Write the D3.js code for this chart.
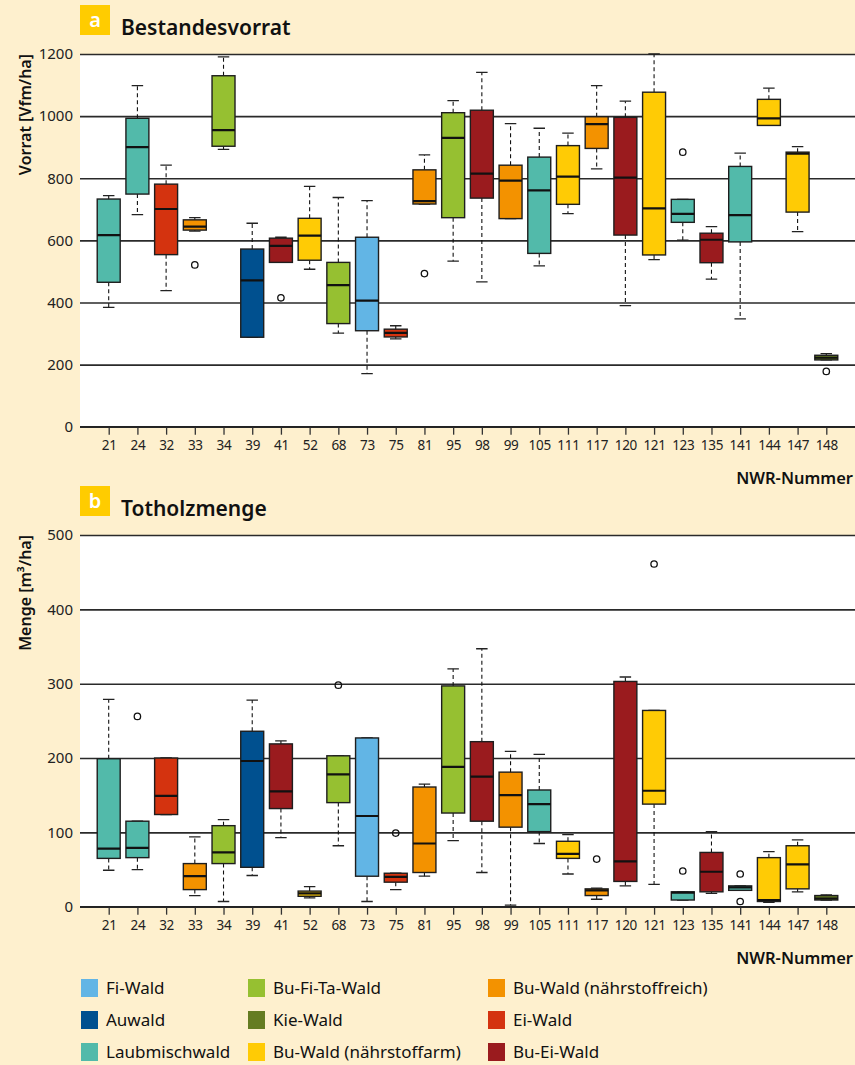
<!DOCTYPE html>
<html>
<head>
<meta charset="utf-8">
<script src="https://cdn.jsdelivr.net/npm/d3@7"></script>
<style>
  html, body { margin: 0; padding: 0; background: #FEF0CE; }
  svg { display: block; font-family: "Noto Sans", "Open Sans", sans-serif; }
</style>
</head>
<body>
<svg id="chart" width="855" height="1065"></svg>
<script>
// ---------- data ----------
const nwr = ["21","24","32","33","34","39","41","52","68","73","75","81","95","98","99","105","111","117","120","121","123","135","141","144","147","148"];
const forestType = ["Laubmischwald","Laubmischwald","Ei-Wald","Bu-Wald (nährstoffreich)","Bu-Fi-Ta-Wald","Auwald","Bu-Ei-Wald","Bu-Wald (nährstoffarm)","Bu-Fi-Ta-Wald","Fi-Wald","Ei-Wald","Bu-Wald (nährstoffreich)","Bu-Fi-Ta-Wald","Bu-Ei-Wald","Bu-Wald (nährstoffreich)","Laubmischwald","Bu-Wald (nährstoffarm)","Bu-Wald (nährstoffreich)","Bu-Ei-Wald","Bu-Wald (nährstoffarm)","Laubmischwald","Bu-Ei-Wald","Laubmischwald","Bu-Wald (nährstoffarm)","Bu-Wald (nährstoffarm)","Kie-Wald"];

// Panel a: Bestandesvorrat [Vfm/ha]
const vorratLo  = [384, 683, 438, 630, 893, 288, 529, 507, 301, 171, 283, 717, 533, 466, 670, 518, 686, 830, 390, 538, 601, 475, 347, 970, 628, 215];
const vorratQ1  = [465, 749, 554, 633, 903, 288, 529, 536, 332, 309, 289, 717, 673, 736, 670, 558, 716, 896, 617, 553, 658, 528, 595, 970, 691, 215];
const vorratMed = [617, 900, 701, 644, 955, 471, 582, 615, 456, 406, 302, 726, 930, 815, 792, 761, 805, 974, 802, 703, 685, 602, 681, 993, 879, 222];
const vorratQ3  = [733, 993, 781, 666, 1130, 572, 607, 671, 529, 610, 314, 827, 1011, 1019, 842, 868, 905, 998, 996, 1077, 732, 623, 838, 1054, 884, 230];
const vorratHi  = [744, 1098, 842, 673, 1191, 655, 610, 774, 738, 728, 325, 875, 1050, 1141, 976, 961, 945, 1098, 1048, 1200, 732, 644, 881, 1090, 902, 235];
const vorratOutNwr = ["33","41","81","123","148"];
const vorratOutVal = [521, 415, 493, 884, 178];
const vorratTicks = [0, 200, 400, 600, 800, 1000, 1200];

// Panel b: Totholzmenge [m³/ha]
const totLo  = [49, 50, 124, 15, 7, 42, 93, 12, 82, 7, 23, 41, 89, 46, 2, 85, 44, 10, 28, 30, 9, 18, 22, 6, 20, 9];
const totQ1  = [65, 66, 124, 23, 58, 53, 132, 14, 140, 41, 33, 46, 126, 115, 107, 101, 65, 15, 34, 138, 9, 20, 22, 7, 24, 9];
const totMed = [78, 79, 149, 41, 73, 196, 155, 18, 178, 122, 40, 85, 188, 175, 150, 138, 71, 22, 61, 156, 19, 47, 26, 9, 57, 11];
const totQ3  = [199, 115, 200, 58, 109, 236, 219, 21, 203, 227, 45, 161, 297, 222, 181, 157, 88, 24, 303, 264, 20, 73, 28, 66, 82, 15];
const totHi  = [279, 115, 200, 94, 117, 278, 223, 27, 203, 227, 45, 165, 320, 347, 209, 205, 97, 25, 309, 264, 20, 101, 28, 74, 90, 16];
const totOutNwr = ["24","68","75","117","121","123","141","141"];
const totOutVal = [256, 298, 99, 64, 461, 48, 44, 7];
const totTicks = [0, 100, 200, 300, 400, 500];

const legendItems = ["Fi-Wald","Auwald","Laubmischwald","Bu-Fi-Ta-Wald","Kie-Wald","Bu-Wald (nährstoffarm)","Bu-Wald (nährstoffreich)","Ei-Wald","Bu-Ei-Wald"];
const legendColors = ["#62B5E5","#00508F","#52BAAA","#96C031","#657C22","#FFCB05","#F39200","#D4330F","#9A1B1E"];

// ---------- chart ----------
const color = d3.scaleOrdinal().domain(legendItems).range(legendColors);
const svg = d3.select("#chart");
const X0 = 80, X1 = 855;
const x = d3.scalePoint().domain(nwr).range([X0, X1]).padding(1);
const bw = x.step() * 0.8;

function panel(opts) {
  const { top, bottom, domainMax, ticks, lo, q1, med, q3, hi, outNwr, outVal, letter, title, yTitle } = opts;
  const y = d3.scaleLinear().domain([0, domainMax]).range([bottom, top]);
  const g = svg.append("g");

  // white plot area
  g.append("rect").attr("x", X0).attr("y", top).attr("width", X1 - X0).attr("height", bottom - top).attr("fill", "#fff");

  // gridlines + y labels
  const yAxis = d3.axisLeft(y).tickValues(ticks).tickSize(-(X1 - X0)).tickPadding(7).tickFormat(d3.format("d"));
  const ya = g.append("g").attr("transform", `translate(${X0},0)`).call(yAxis);
  ya.select(".domain").remove();
  ya.selectAll(".tick line").attr("stroke", "#2a2a2a").attr("stroke-width", 1.6);
  ya.selectAll(".tick text").attr("font-size", 15).attr("fill", "#222").attr("font-family", "Noto Sans");

  // x axis ticks
  const xAxis = d3.axisBottom(x).tickSize(8).tickPadding(6);
  const xa = g.append("g").attr("transform", `translate(0,${bottom})`).call(xAxis);
  xa.select(".domain").remove();
  xa.selectAll(".tick line").attr("stroke", "#333").attr("stroke-width", 1.3);
  xa.selectAll(".tick text").attr("font-size", 13.5).attr("fill", "#222").attr("font-family", "Noto Sans")
    .attr("letter-spacing", -0.3);

  // clip to plot area
  const clipId = "clip" + letter;
  svg.append("clipPath").attr("id", clipId).append("rect").attr("x", X0).attr("y", top - 1).attr("width", X1 - X0).attr("height", bottom - top + 1);
  const pg = g.append("g").attr("clip-path", `url(#${clipId})`);

  nwr.forEach((n, i) => {
    const cx = x(n);
    const bg = pg.append("g");
    // whiskers (dashed)
    if (hi[i] > q3[i]) {
      bg.append("line").attr("x1", cx).attr("x2", cx).attr("y1", y(q3[i])).attr("y2", y(hi[i]))
        .attr("stroke", "#111").attr("stroke-width", 1.1).attr("stroke-dasharray", "4,3");
    }
    if (lo[i] < q1[i]) {
      bg.append("line").attr("x1", cx).attr("x2", cx).attr("y1", y(q1[i])).attr("y2", y(lo[i]))
        .attr("stroke", "#111").attr("stroke-width", 1.1).attr("stroke-dasharray", "4,3");
    }
    // caps
    [hi[i], lo[i]].forEach(v => {
      bg.append("line").attr("x1", cx - bw / 4).attr("x2", cx + bw / 4).attr("y1", y(v)).attr("y2", y(v))
        .attr("stroke", "#222").attr("stroke-width", 1.3);
    });
    // box
    bg.append("rect").attr("x", cx - bw / 2).attr("width", bw)
      .attr("y", y(q3[i])).attr("height", Math.max(1, y(q1[i]) - y(q3[i])))
      .attr("fill", color(forestType[i])).attr("stroke", "#1e1e1e").attr("stroke-width", 1.4);
    // median
    bg.append("line").attr("x1", cx - bw / 2).attr("x2", cx + bw / 2).attr("y1", y(med[i])).attr("y2", y(med[i]))
      .attr("stroke", "#111").attr("stroke-width", 2.2);
  });

  // outliers
  outNwr.forEach((n, k) => {
    pg.append("circle").attr("cx", x(n)).attr("cy", y(outVal[k])).attr("r", 3.2)
      .attr("fill", "none").attr("stroke", "#111").attr("stroke-width", 1.3);
  });

  // x axis line
  g.append("line").attr("x1", X0).attr("x2", X1).attr("y1", bottom).attr("y2", bottom).attr("stroke", "#222").attr("stroke-width", 1.6);

  // badge & title
  const bt = top - 49;
  g.append("rect").attr("x", 80).attr("y", bt).attr("width", 30).attr("height", 30).attr("fill", "#FFCC00");
  g.append("text").attr("x", 95).attr("y", bt + 22).attr("text-anchor", "middle").attr("fill", "#fff")
    .attr("font-size", 20).attr("font-weight", 600).text(letter);
  g.append("text").attr("x", 121).attr("y", bt + 30).attr("fill", "#111")
    .attr("font-size", 21).attr("font-weight", 600).text(title);

  // y title
  g.append("text").attr("transform", `translate(31,${top}) rotate(-90)`).attr("text-anchor", "end")
    .attr("font-size", 16).attr("font-weight", 600).attr("fill", "#111").text(yTitle);

  // x title
  g.append("text").attr("x", 853).attr("y", bottom + 57).attr("text-anchor", "end")
    .attr("font-size", 16.5).attr("font-weight", 600).attr("fill", "#111").text("NWR-Nummer");
}

panel({ top: 54, bottom: 426.7, domainMax: 1200, ticks: vorratTicks,
  lo: vorratLo, q1: vorratQ1, med: vorratMed, q3: vorratQ3, hi: vorratHi,
  outNwr: vorratOutNwr, outVal: vorratOutVal, letter: "a", title: "Bestandesvorrat", yTitle: "Vorrat [Vfm/ha]" });

panel({ top: 535, bottom: 906.7, domainMax: 500, ticks: totTicks,
  lo: totLo, q1: totQ1, med: totMed, q3: totQ3, hi: totHi,
  outNwr: totOutNwr, outVal: totOutVal, letter: "b", title: "Totholzmenge", yTitle: "Menge [m³/ha]" });

// legend
const colX = [81, 248, 488];
const rowY = [979, 1011, 1043];
const lg = svg.append("g");
legendItems.forEach((name, i) => {
  const c = Math.floor(i / 3), r = i % 3;
  lg.append("rect").attr("x", colX[c]).attr("y", rowY[r]).attr("width", 17).attr("height", 18).attr("fill", legendColors[i]);
  lg.append("text").attr("x", colX[c] + 25).attr("y", rowY[r] + 15).attr("font-size", 17).attr("fill", "#111").text(name);
});
</script>
</body>
</html>
